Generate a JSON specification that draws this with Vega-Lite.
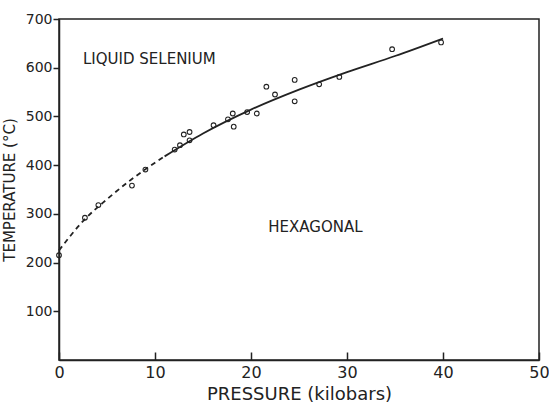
{
  "$schema": "https://vega.github.io/schema/vega-lite/v6.json",
  "width": 480,
  "height": 341,
  "autosize": "none",
  "padding": {"left": 59, "top": 19, "right": 10, "bottom": 52},
  "background": "white",
  "config": {
    "view": {"stroke": "#222", "strokeWidth": 1.5},
    "font": "DejaVu Sans",
    "axis": {"grid": false, "domainColor": "#222", "domainWidth": 1.5, "tickColor": "#222", "tickWidth": 1.5, "labelColor": "#222", "titleColor": "#222", "labelFont": "DejaVu Sans", "titleFont": "DejaVu Sans", "titleFontWeight": "normal"}
  },
  "datasets": {
    "points": [
      {"p": 0, "t": 215}, {"p": 2.7, "t": 292}, {"p": 4.1, "t": 318}, {"p": 7.6, "t": 358},
      {"p": 9.0, "t": 391}, {"p": 12.05, "t": 432}, {"p": 12.6, "t": 441}, {"p": 13.0, "t": 463},
      {"p": 13.6, "t": 468}, {"p": 13.6, "t": 451}, {"p": 16.1, "t": 482}, {"p": 17.6, "t": 494},
      {"p": 18.1, "t": 506}, {"p": 18.2, "t": 479}, {"p": 19.6, "t": 509}, {"p": 20.6, "t": 506},
      {"p": 21.6, "t": 561}, {"p": 22.5, "t": 545}, {"p": 24.55, "t": 575}, {"p": 24.55, "t": 531},
      {"p": 27.1, "t": 566}, {"p": 29.2, "t": 581}, {"p": 34.7, "t": 638}, {"p": 39.8, "t": 652}
    ],
    "dashed": [
      {"p": 0, "t": 225}, {"p": 2.5, "t": 285}, {"p": 5, "t": 330}, {"p": 7.5, "t": 370},
      {"p": 10, "t": 405}, {"p": 11, "t": 418}
    ],
    "solid": [
      {"p": 11, "t": 418}, {"p": 15, "t": 465}, {"p": 20, "t": 514}, {"p": 25, "t": 555},
      {"p": 30, "t": 591}, {"p": 35, "t": 624}, {"p": 40, "t": 660}
    ],
    "labels": [
      {"p": 2.5, "t": 617, "label": "LIQUID SELENIUM"},
      {"p": 21.8, "t": 272, "label": "HEXAGONAL"}
    ]
  },
  "layer": [
    {
      "data": {"name": "dashed"},
      "mark": {"type": "line", "color": "#222", "strokeWidth": 1.8, "strokeDash": [5, 4], "interpolate": "monotone"},
      "encoding": {
        "x": {"field": "p", "type": "quantitative", "scale": {"domain": [0, 50]},
          "axis": {"title": "PRESSURE (kilobars)", "values": [0, 10, 20, 30, 40, 50], "tickSize": -8, "labelPadding": 12, "labelFontSize": 16, "titleFontSize": 18, "titlePadding": 5, "labelFlush": false}},
        "y": {"field": "t", "type": "quantitative", "scale": {"domain": [0, 700]},
          "axis": {"title": "TEMPERATURE (°C)", "values": [100, 200, 300, 400, 500, 600, 700], "tickSize": 6, "labelPadding": 1, "labelFontSize": 14, "titleFontSize": 15, "titlePadding": 8, "labelFlush": false}}
      }
    },
    {
      "data": {"name": "solid"},
      "mark": {"type": "line", "color": "#222", "strokeWidth": 1.8, "interpolate": "monotone"},
      "encoding": {
        "x": {"field": "p", "type": "quantitative"},
        "y": {"field": "t", "type": "quantitative"}
      }
    },
    {
      "data": {"name": "points"},
      "mark": {"type": "point", "shape": "circle", "filled": false, "color": "#222", "size": 22, "strokeWidth": 1.1, "opacity": 1},
      "encoding": {
        "x": {"field": "p", "type": "quantitative"},
        "y": {"field": "t", "type": "quantitative"}
      }
    },
    {
      "data": {"name": "labels"},
      "mark": {"type": "text", "align": "left", "baseline": "middle", "fontSize": 15, "color": "#222"},
      "encoding": {
        "x": {"field": "p", "type": "quantitative"},
        "y": {"field": "t", "type": "quantitative"},
        "text": {"field": "label"}
      }
    }
  ]
}
